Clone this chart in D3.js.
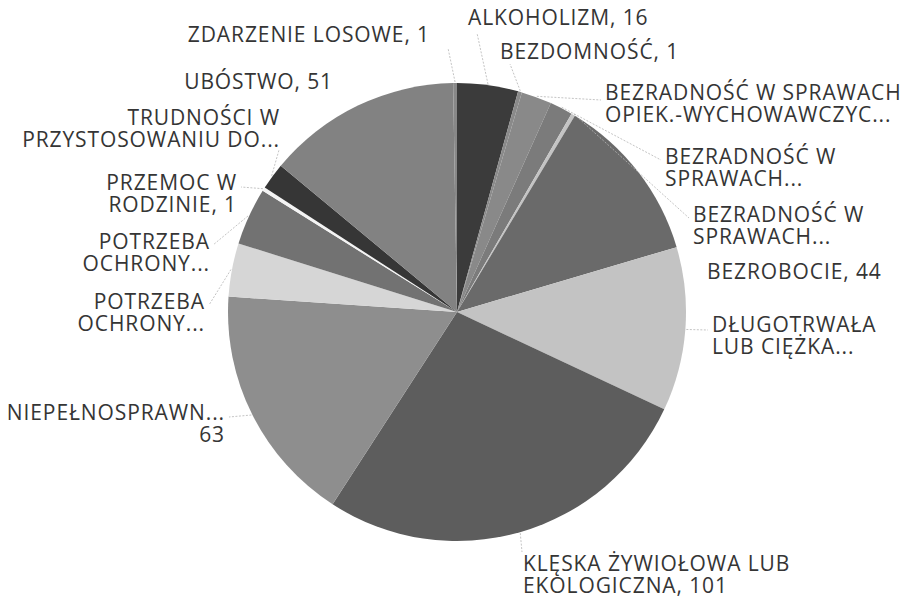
<!DOCTYPE html>
<html>
<head>
<meta charset="utf-8">
<script src="https://cdn.jsdelivr.net/npm/d3@7"></script>
<style>
  body { margin: 0; background: #fff; }
  #chart text { font-family: "Open Sans", sans-serif; font-size: 21px; letter-spacing: 0.9px; fill: #353535; }
</style>
</head>
<body>
<div id="chart"></div>
<script>
// Category labels as shown (truncated ones keep their "...")
const categories = [
  ["ALKOHOLIZM, 16"],
  ["BEZDOMNOŚĆ, 1"],
  ["BEZRADNOŚĆ W SPRAWACH", "OPIEK.-WYCHOWAWCZYC..."],
  ["BEZRADNOŚĆ W", "SPRAWACH..."],
  ["BEZRADNOŚĆ W", "SPRAWACH..."],
  ["BEZROBOCIE, 44"],
  ["DŁUGOTRWAŁA", "LUB CIĘŻKA..."],
  ["KLĘSKA ŻYWIOŁOWA LUB", "EKOLOGICZNA, 101"],
  ["NIEPEŁNOSPRAWN...", "63"],
  ["POTRZEBA", "OCHRONY..."],
  ["POTRZEBA", "OCHRONY..."],
  ["PRZEMOC W", "RODZINIE, 1"],
  ["TRUDNOŚCI W", "PRZYSTOSOWANIU DO..."],
  ["UBÓSTWO, 51"],
  ["ZDARZENIE LOSOWE, 1"]
];

// slice values (hidden ones estimated from the angles)
const values = [16, 1, 8, 6, 1, 44, 43, 101, 63, 14, 15, 1, 7, 51, 1];

// grey fills of the scanned chart
const colors = ["#3b3b3b", "#8a8a8a", "#898989", "#7b7b7b", "#c4c4c4", "#6a6a6a", "#c3c3c3",
  "#5d5d5d", "#8e8e8e", "#d6d6d6", "#727272", "#f4f4f4", "#363636", "#828282", "#888888"];

// label placement: x, first baseline, anchor, leader end (or null)
const labelLayout = [
  [468, 25, "start", [477, 33]],
  [500, 59, "start", [510, 64]],
  [605, 100, "start", [601, 100]],
  [665, 164, "start", [661, 160]],
  [693, 222, "start", [689, 218]],
  [707, 279, "start", null],
  [712, 332, "start", [708, 330]],
  [523, 571, "start", [522, 552]],
  [225, 420, "end", [229, 417]],
  [205, 309, "end", [209, 305]],
  [210, 249, "end", [213, 245]],
  [237, 190, "end", [241, 187]],
  [280, 125, "end", [279, 150]],
  [333, 89, "end", null],
  [430, 42, "end", [448, 48]]
];

const width = 910;
const height = 598;
const cx = 457, cy = 312, radius = 229;
const lineHeight = 22;

const svg = d3.select("#chart")
  .append("svg")
  .attr("width", width)
  .attr("height", height);

const pie = d3.pie().sort(null).value(d => d);
const arcs = pie(values);

const arc = d3.arc().innerRadius(0).outerRadius(radius);
const edge = d3.arc().innerRadius(radius + 1).outerRadius(radius + 1);

const g = svg.append("g").attr("transform", `translate(${cx},${cy})`);

g.selectAll("path")
  .data(arcs)
  .enter()
  .append("path")
  .attr("d", arc)
  .attr("fill", (d, i) => colors[i]);

// leader lines
svg.selectAll("line.leader")
  .data(arcs.filter((d, i) => labelLayout[i][3]))
  .enter()
  .append("line")
  .attr("class", "leader")
  .attr("x1", d => cx + edge.centroid(d)[0])
  .attr("y1", d => cy + edge.centroid(d)[1])
  .attr("x2", d => labelLayout[d.index][3][0])
  .attr("y2", d => labelLayout[d.index][3][1])
  .attr("stroke", "#b5b5b5")
  .attr("stroke-width", 0.8)
  .attr("stroke-dasharray", "2,1.5");

// data labels
const labels = svg.selectAll("text.lbl")
  .data(categories)
  .enter()
  .append("text")
  .attr("class", "lbl")
  .attr("x", (d, i) => labelLayout[i][0])
  .attr("y", (d, i) => labelLayout[i][1])
  .attr("text-anchor", (d, i) => labelLayout[i][2]);

labels.selectAll("tspan")
  .data((d, i) => d.map(t => ({ t, i })))
  .enter()
  .append("tspan")
  .attr("x", d => labelLayout[d.i][0])
  .attr("dy", (d, j) => j === 0 ? 0 : lineHeight)
  .text(d => d.t);
</script>
</body>
</html>
